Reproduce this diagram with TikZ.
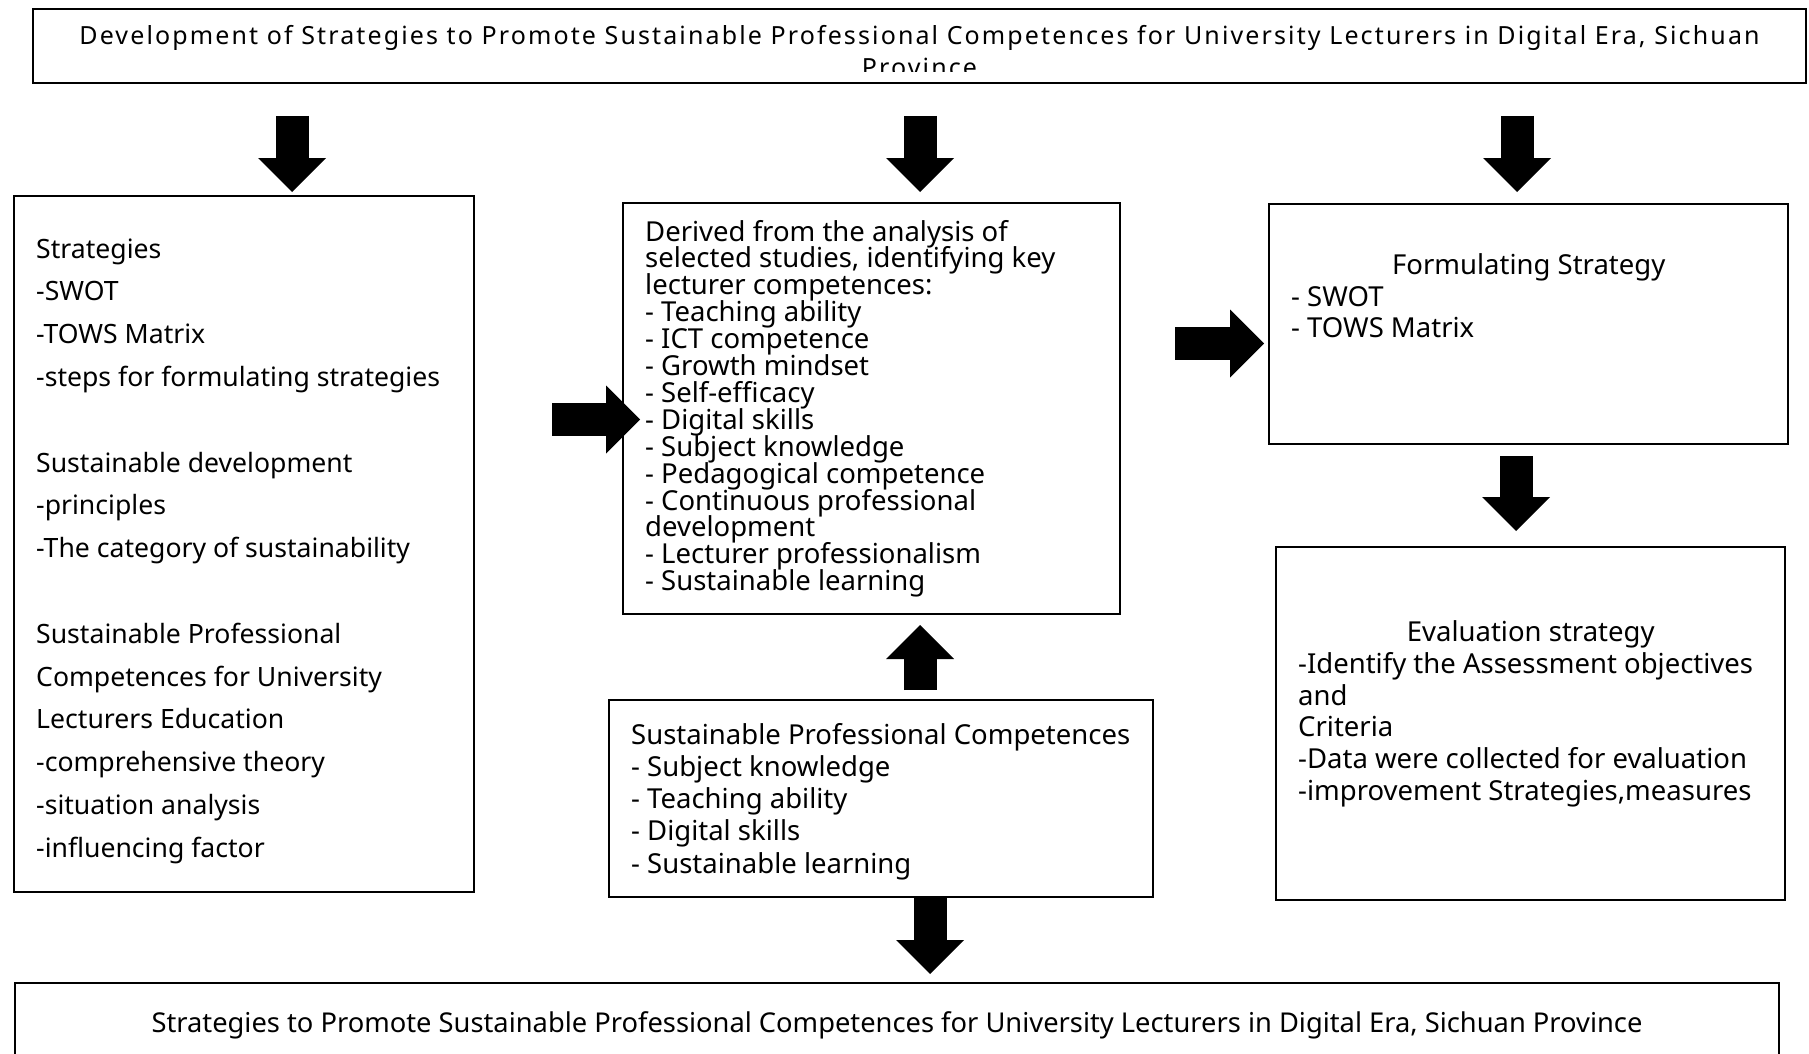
\documentclass[tikz,border=0pt]{standalone}
\usepackage{fontspec}
\setmainfont{Noto Sans}
\newfontfamily\headfont[LetterSpace=8.5]{Noto Sans}
\newcommand\tightlines{\lineskiplimit-100pt\lineskip0pt\relax}
\usetikzlibrary{arrows.meta}
\tikzset{
  box/.style={draw, line width=2.5pt, inner sep=0pt, outer sep=0pt, anchor=north west},
  txt/.style={inner sep=0pt, anchor=base west, font={\fontsize{27.5}{#1}\selectfont}},
  fat/.style={line width=33pt, -{Triangle[width=68pt,length=34pt,line width=0pt]}},
}
\begin{document}
\begin{tikzpicture}[x=1pt,y=-1pt]
\useasboundingbox (0,0) rectangle (1809,1054);
% frames
\node[box, minimum width=1773pt, minimum height=74pt] (title) at (33,9) {};
\node[box, minimum width=460pt, minimum height=696pt] (strat) at (14,196) {};
\node[box, minimum width=497pt, minimum height=411pt] (derived) at (623,203) {};
\node[box, minimum width=519pt, minimum height=240pt] (formulate) at (1269,204) {};
\node[box, minimum width=509pt, minimum height=353pt] (evaluate) at (1276,547) {};
\node[box, minimum width=544pt, minimum height=197pt] (core) at (609,700) {};
\node[box, minimum width=1764pt, minimum height=120pt] (goal) at (15,983) {};
%
% texts
\begin{scope}
\clip (33,9) rectangle (1806,72);
\node[txt=32, anchor=base, font=\headfont\fontsize{25}{32}\selectfont] (titletext) at (919.5,45)
  {\parbox[t]{1760pt}{\centering Development of Strategies to Promote Sustainable Professional Competences for University Lecturers in Digital Era, Sichuan\\Province}};
\end{scope}
%
\node[txt=42.8, font=\fontsize{26.6}{42.8}\selectfont] (strattext) at (36,258) {\parbox[t]{430pt}{\raggedright
  Strategies\\
  -SWOT\\
  -TOWS Matrix\\
  -steps for formulating strategies\\[\baselineskip]
  Sustainable development\\
  -principles\\
  -The category of sustainability\\[\baselineskip]
  Sustainable Professional\\
  Competences for University\\
  Lecturers Education\\
  -comprehensive theory\\
  -situation analysis\\
  -influencing factor}};
%
\node[txt=26.9] (derivedtext) at (645,241) {\parbox[t]{470pt}{\tightlines\raggedright
  Derived from the analysis of\\
  selected studies, identifying key\\
  lecturer competences:\\
  - Teaching ability\\
  - ICT competence\\
  - Growth mindset\\
  - Self-efficacy\\
  - Digital skills\\
  - Subject knowledge\\
  - Pedagogical competence\\
  - Continuous professional\\
  development\\
  - Lecturer professionalism\\
  - Sustainable learning}};
%
\node[txt=31.7] (formulatetext) at (1291,274.5) {\parbox[t]{475pt}{%
  {\centering Formulating Strategy\par}\raggedright
  - SWOT\\
  - TOWS Matrix}};
%
\node[txt=31.8] (evaluatetext) at (1298,641.5) {\parbox[t]{465pt}{%
  {\centering Evaluation strategy\par}\raggedright
  -Identify the Assessment objectives\\
  and\\
  Criteria\\
  -Data were collected for evaluation\\
  -improvement Strategies,measures}};
%
\node[txt=32.3] (coretext) at (631,744) {\parbox[t]{520pt}{\raggedright
  Sustainable Professional Competences\\
  - Subject knowledge\\
  - Teaching ability\\
  - Digital skills\\
  - Sustainable learning}};
%
\node[txt=30, anchor=base, font=\fontsize{27.3}{30}\selectfont] (goaltext) at (897,1032)
  {Strategies to Promote Sustainable Professional Competences for University Lecturers in Digital Era, Sichuan Province};
%
% block arrows
\draw[fat, shorten <=33pt, shorten >=4pt] (title.south -| 292,0) -- (strat.north -| 292,0);
\draw[fat, shorten <=33pt, shorten >=11pt] (title.south -| 920,0) -- (derived.north -| 920,0);
\draw[fat, shorten <=33pt, shorten >=12pt] (title.south -| 1517,0) -- (formulate.north -| 1517,0);
%
\draw[fat, shorten <=78pt, shorten >=-17pt] (strat.east |- 0,419.5) -- (derived.west |- 0,419.5);
\draw[fat, shorten <=55pt, shorten >=5pt] (derived.east |- 0,343.5) -- (formulate.west |- 0,343.5);
\draw[fat, shorten <=12pt, shorten >=16pt] (formulate.south -| 1516,0) -- (evaluate.north -| 1516,0);
%
\draw[fat, shorten <=10pt, shorten >=11pt] (core.north -| 920,0) -- (derived.south -| 920,0);
\draw[fat, shorten >=9pt] (core.south -| 930,0) -- (goal.north -| 930,0);
\end{tikzpicture}
\end{document}
